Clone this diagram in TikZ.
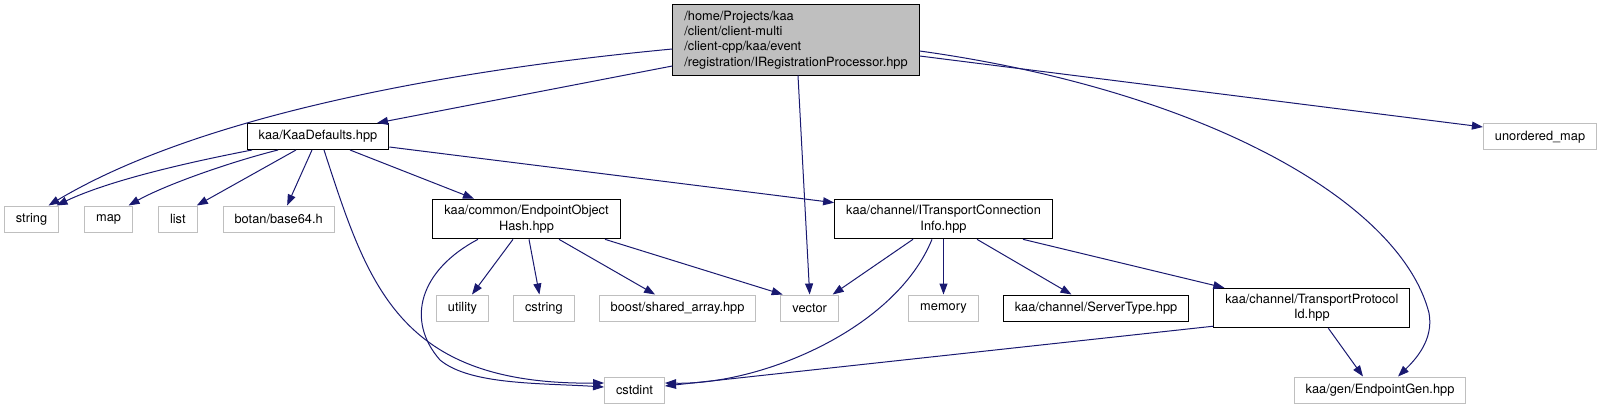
\documentclass[tikz,border=0pt]{standalone}
\usepackage{fontspec}
\setmainfont{TeX Gyre Heros}
\usepackage{tikz}
\usetikzlibrary{arrows.meta, positioning}
\definecolor{depline}{RGB}{25,25,112}
\definecolor{sysgray}{RGB}{191,191,191}

\begin{document}
\begin{tikzpicture}[
    x=1pt, y=-1pt,
    node distance=24pt,
    box/.style={draw, line width=1pt, inner xsep=11.5pt, inner ysep=6pt, minimum height=26pt, align=center, font=\fontsize{12.8}{15.3}\selectfont},
    hdr/.style={box, draw=black},
    ext/.style={box, draw=sysgray},
    arr/.style={-{Triangle[length=11pt, width=8pt]}, line width=1pt, color=depline}
  ]
  \useasboundingbox (0,0) rectangle (1601,409);
  \node[hdr, fill=sysgray, align=left] (root) at (796,40) {/home/Projects/kaa\\/client/client-multi\\/client-cpp/kaa/event\\/registration/IRegistrationProcessor.hpp};
  \node[hdr] (kaadef) at (318,136.5) {kaa/KaaDefaults.hpp};
  \node[ext] (unmap) at (1540,137) {unordered\_map};
  \node[ext] (string) at (31.5,219) {string};
  \node[ext, right=25pt of string] (map) {map};
  \node[ext, right=25pt of map] (list) {list};
  \node[ext, right=25pt of list] (botan) {botan/base64.h};
  \node[hdr] (eoh) at (526.5,219) {kaa/common/EndpointObject\\Hash.hpp};
  \node[hdr] (itci) at (943.5,219) {kaa/channel/ITransportConnection\\Info.hpp};
  \node[ext] (utility) at (462.5,308) {utility};
  \node[ext, right=of utility] (cstring) {cstring};
  \node[ext, right=of cstring] (shared) {boost/shared\_array.hpp};
  \node[ext, right=of shared] (vector) {vector};
  \node[ext] (memory) at (943.5,308) {memory};
  \node[hdr, right=of memory] (srvtype) {kaa/channel/ServerType.hpp};
  \node[hdr, right=of srvtype] (tpid) {kaa/channel/TransportProtocol\\Id.hpp};
  \node[ext] (cstdint) at (634.5,390) {cstdint};
  \node[ext] (epgen) at (1380,390) {kaa/gen/EndpointGen.hpp};
  \draw[arr] ([yshift=-26pt]root.west) -- ([xshift=59pt]kaadef.north);
  \draw[arr] ([yshift=-9pt]root.west) .. controls (450,70) and (200,115) .. ([xshift=17pt]string.north);
  \draw[arr] ([xshift=2pt]root.south) -- (vector.north);
  \draw[arr] ([yshift=-16pt]root.east) -- ([yshift=10pt]unmap.west);
  \draw[arr] ([yshift=-11pt]root.east) .. controls (1200,90) and (1400,200) .. (1429,313)
    .. controls (1434,340) and (1415,360) .. ([xshift=18pt]epgen.north);
  \draw[arr] ([xshift=-66pt]kaadef.south) .. controls (190,162) and (110,180) .. ([xshift=25pt]string.north);
  \draw[arr] ([xshift=-40pt]kaadef.south) .. controls (230,162) and (165,185) .. ([xshift=20pt]map.north);
  \draw[arr] ([xshift=-22pt]kaadef.south) -- ([xshift=19pt]list.north);
  \draw[arr] ([xshift=-6pt]kaadef.south) -- ([xshift=8.5pt]botan.north);
  \draw[arr] ([xshift=6pt]kaadef.south) .. controls (368,285) and (398,385) .. ([yshift=7pt]cstdint.west);
  \draw[arr] ([xshift=32pt]kaadef.south) -- ([xshift=-52.5pt]eoh.north);
  \draw[arr] ([yshift=-10.5pt]kaadef.east) -- ([yshift=-4pt]itci.north west);
  \draw[arr] ([xshift=-48.5pt]eoh.south) .. controls (420,270) and (405,320) .. (440,360)
    .. controls (470,385) and (540,383) .. ([yshift=3pt]cstdint.west);
  \draw[arr] ([xshift=-13.5pt]eoh.south) -- ([xshift=9.5pt]utility.north);
  \draw[arr] ([xshift=2.5pt]eoh.south) -- ([xshift=-4.5pt]cstring.north);
  \draw[arr] ([xshift=32.5pt]eoh.south) -- ([xshift=-22.5pt]shared.north);
  \draw[arr] ([xshift=78.5pt]eoh.south) -- ([xshift=-27pt]vector.north);
  \draw[arr] ([xshift=-30.5pt]itci.south) -- ([xshift=23pt]vector.north);
  \draw[arr] ([xshift=-11.5pt]itci.south) .. controls (895,330) and (760,385) .. ([yshift=7pt]cstdint.east);
  \draw[arr] (itci.south) -- (memory.north);
  \draw[arr] ([xshift=33.5pt]itci.south) -- ([xshift=-24.5pt]srvtype.north);
  \draw[arr] ([xshift=79.5pt]itci.south) -- ([xshift=-87.5pt]tpid.north);
  \draw[arr] ([yshift=2pt]tpid.south west) -- ([yshift=4pt]cstdint.east);
  \draw[arr] ([xshift=16.5pt]tpid.south) -- ([xshift=-17pt]epgen.north);
\end{tikzpicture}
\end{document}
